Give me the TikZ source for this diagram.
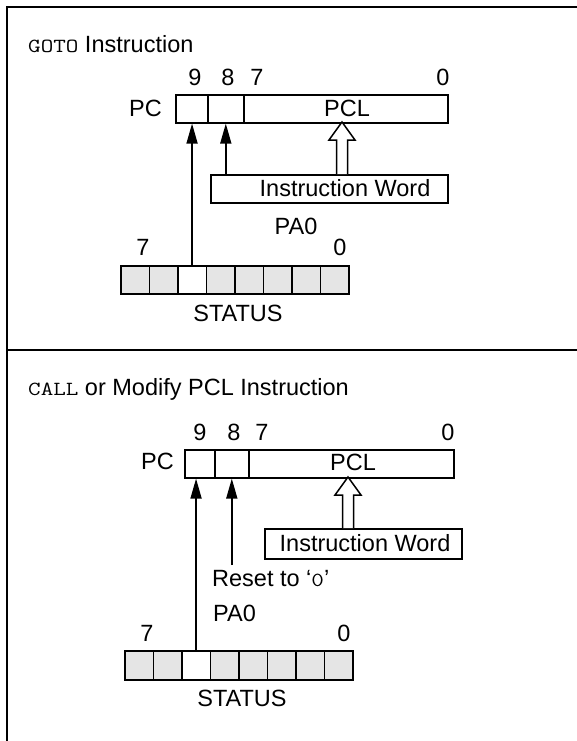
\documentclass[tikz,border=0pt]{standalone}
\usepackage{fontspec}
\setmainfont{Liberation Sans}
\newfontfamily\courfont{Latin Modern Mono}[FakeStretch=1.22]
\usetikzlibrary{arrows.meta}
\newcommand{\mymono}[1]{{\courfont\fontsize{20}{24}\selectfont #1}}
\begin{document}
\begin{tikzpicture}[x=1pt,y=-1pt,
  lbl/.style={inner sep=0pt, font=\fontsize{23.5}{28}\selectfont},
  cell/.style={draw, line width=1.6pt, inner sep=0pt, minimum height=28pt, anchor=north west},
  gcell/.style={cell, fill=gray!20},
  arr/.style={line width=1.6pt, -{Triangle[length=20pt,width=11pt]}},
  hollow/.style={draw, line width=1.5pt, fill=white, line join=miter},
  frame/.style={line width=2pt}]
\useasboundingbox (0,0) rectangle (576,741);
% frame
\draw[frame] (577,7) -- (7,7) -- (7,742);
\draw[frame] (7,350) -- (577,350);

% ===== top: GOTO =====
\node[lbl, anchor=base west] (tA) at (28,52.5) {\mymono{GOTO} Instruction};
\node[lbl, anchor=base] (nA9) at (195,85.5) {9};
\node[lbl, anchor=base] (nA8) at (228,85.5) {8};
\node[lbl, anchor=base] (nA7) at (257,85.5) {7};
\node[lbl, anchor=base] (nA0) at (443,85.5) {0};
\node[cell, minimum width=32pt] (pcA9) at (175,94) {};
\node[cell, minimum width=36pt] (pcA8) at (207,94) {};
\node[cell, minimum width=204pt] (pcAL) at (243,94) {};
\node[lbl, anchor=base east] (pcAt) at (162,116.5) {PC};
\node[lbl, anchor=base] (pclA) at (347,116.5) {PCL};
\node[cell, minimum width=237pt] (iwA) at (210,174) {};
\node[lbl, anchor=base] (iwAt) at (345,196.5) {Instruction Word};
\node[lbl, anchor=base] (paA) at (296,234.5) {PA0};
\node[lbl, anchor=base] (sA7) at (143,255.5) {7};
\node[lbl, anchor=base] (sA0) at (340,255.5) {0};
\foreach \i/\s in {1/gcell,2/gcell,3/cell,4/gcell,5/gcell,6/gcell,7/gcell,8/gcell}
  \node[\s, minimum width=28.5pt] (stA\i) at ({120+(\i-1)*28.5},265) {};
\node[lbl, anchor=base] (stAt) at (238,321.5) {STATUS};
\draw[arr] (stA3.north) -- (stA3.north |- pcA9.south);
\draw[arr] (iwA.north -| pcA8.south) -- (pcA8.south);
\draw[hollow] (336.5,174) -- (336.5,140) -- (329,140) -- (342,122) -- (355,140) -- (347.5,140) -- (347.5,174);

% ===== bottom: CALL =====
\node[lbl, anchor=base west] (tB) at (28,395) {\mymono{CALL} or Modify PCL Instruction};
\node[lbl, anchor=base] (nB9) at (200,440.5) {9};
\node[lbl, anchor=base] (nB8) at (234,440.5) {8};
\node[lbl, anchor=base] (nB7) at (262,440.5) {7};
\node[lbl, anchor=base] (nB0) at (448,440.5) {0};
\node[cell, minimum width=30pt] (pcB9) at (184,449) {};
\node[cell, minimum width=34pt] (pcB8) at (214,449) {};
\node[cell, minimum width=205pt] (pcBL) at (248,449) {};
\node[lbl, anchor=base east] (pcBt) at (174,469.5) {PC};
\node[lbl, anchor=base] (pclB) at (353,470) {PCL};
\node[cell, minimum width=197pt, minimum height=30pt] (iwB) at (264,528) {};
\node[lbl, anchor=base] (iwBt) at (365,551.5) {Instruction Word};
\coordinate (rs) at (231,565);
\node[lbl, anchor=base west] (rsB) at (212,586.5) {Reset to ‘{\courfont\fontsize{20}{24}\selectfont 0}’};
\node[lbl, anchor=base west] (paB) at (213,621.5) {PA0};
\node[lbl, anchor=base] (sB7) at (147,641.5) {7};
\node[lbl, anchor=base] (sB0) at (344,641.5) {0};
\foreach \i/\s in {1/gcell,2/gcell,3/cell,4/gcell,5/gcell,6/gcell,7/gcell,8/gcell}
  \node[\s, minimum width=28.5pt, minimum height=29pt] (stB\i) at ({124+(\i-1)*28.5},650) {};
\node[lbl, anchor=base] (stBt) at (242,706.5) {STATUS};
\draw[arr] (stB3.north) -- (stB3.north |- pcB9.south);
\draw[arr] (rs -| pcB8.south) -- (pcB8.south);
\draw[hollow] (342.5,528) -- (342.5,495) -- (335,495) -- (348,477) -- (361,495) -- (353.5,495) -- (353.5,528);
\end{tikzpicture}
\end{document}
